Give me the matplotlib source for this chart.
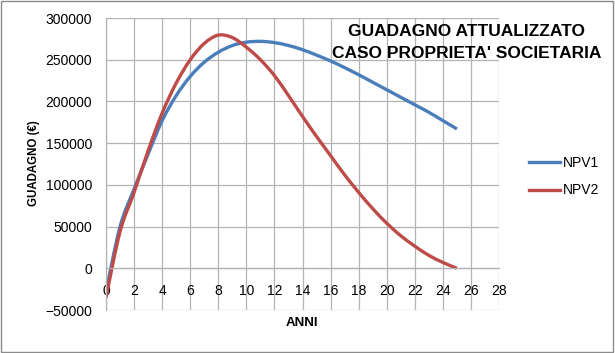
import numpy as np
import matplotlib
matplotlib.use("Agg")
import matplotlib.pyplot as plt
from matplotlib.patches import Rectangle, PathPatch
from matplotlib.path import Path
from matplotlib.lines import Line2D

plt.rcParams['font.family'] = ['Liberation Sans', 'DejaVu Sans']

# values (one per year)
anni = list(range(0, 26))
npv1 = [-28000, 50000, 95000, 137000, 177000, 207000, 230000, 247000, 259000,
        267000, 271000, 272000, 270500, 267000, 262000, 255500, 248500, 240500,
        232000, 223000, 214000, 205000, 196000, 187000, 177000, 167000]
npv2 = [-35000, 44000, 91000, 141000, 186000, 222000, 250000, 269500, 279500,
        276500, 265000, 250000, 231000, 207000, 182000, 158000, 135000, 112000,
        91000, 71500, 54000, 39000, 26500, 15500, 7000, 0]

x_ticks = list(range(0, 30, 2))
y_ticks = list(range(-50000, 300001, 50000))

title = "GUADAGNO ATTUALIZZATO\nCASO PROPRIETA' SOCIETARIA"

grid_col = "#b3b3b3"
col1 = "#4a7ebb"
col2 = "#be4b48"


def smooth_path(xs, ys):
    # Excel-like "smoothed line": cubic bezier segments through the points
    p = np.column_stack([xs, ys]).astype(float)
    n = len(p)
    verts = [p[0]]
    codes = [Path.MOVETO]
    for i in range(n - 1):
        p0 = p[i - 1] if i > 0 else p[i]
        p3 = p[i + 2] if i + 2 < n else p[i + 1]
        c1 = p[i] + (p[i + 1] - p0) / 6.0
        c2 = p[i + 1] - (p3 - p[i]) / 6.0
        verts += [c1, c2, p[i + 1]]
        codes += [Path.CURVE4] * 3
    return Path(verts, codes)


fig = plt.figure(figsize=(6.15, 3.53), dpi=100)
ax = fig.add_axes([0.1724, 0.1218, 0.8114 - 0.1724, 0.949 - 0.1218])

for ys, col in [(npv1, col1), (npv2, col2)]:
    ax.add_patch(PathPatch(smooth_path(anni, ys), fill=False, edgecolor=col,
                           lw=2.4, capstyle='butt', joinstyle='round'))

ax.set_xlim(0, 28)
ax.set_ylim(-50000, 300000)
ax.set_xticks(x_ticks)
ax.set_yticks(y_ticks)
ax.grid(True, color=grid_col, lw=0.9)
ax.set_axisbelow(True)

# x axis crosses at y = 0, like in Excel
ax.spines['bottom'].set_position(('data', 0))
for s in ['top', 'right']:
    ax.spines[s].set_visible(False)
for s in ['bottom', 'left']:
    ax.spines[s].set_color(grid_col)
    ax.spines[s].set_linewidth(0.9)
ax.tick_params(axis='both', length=0, labelsize=10, colors='#000000')
ax.tick_params(axis='y', pad=10)
ax.tick_params(axis='x', pad=11)

fig.text(0.056, 0.539, "GUADAGNO (€)", rotation=90, ha='center', va='center',
         fontsize=8.3, fontweight='bold')
fig.text(0.491, 0.085, "ANNI", ha='center', va='center', fontsize=9.5,
         fontweight='bold')
fig.text(0.759, 0.88, title, ha='center', va='center', fontsize=12.5,
         fontweight='bold', linespacing=1.6)

handles = [Line2D([], [], color=col1, lw=2.4), Line2D([], [], color=col2, lw=2.4)]
fig.legend(handles, ["NPV1", "NPV2"], loc='center left',
           bbox_to_anchor=(0.84, 0.50), frameon=False, fontsize=10,
           handlelength=2.2, handletextpad=0.2, labelspacing=1.0)

fig.add_artist(Rectangle((0.002, 0.004), 0.995, 0.992, transform=fig.transFigure,
                         fill=False, edgecolor="#8c8c8c", lw=1.0))

fig.savefig("out.png", dpi=100)
